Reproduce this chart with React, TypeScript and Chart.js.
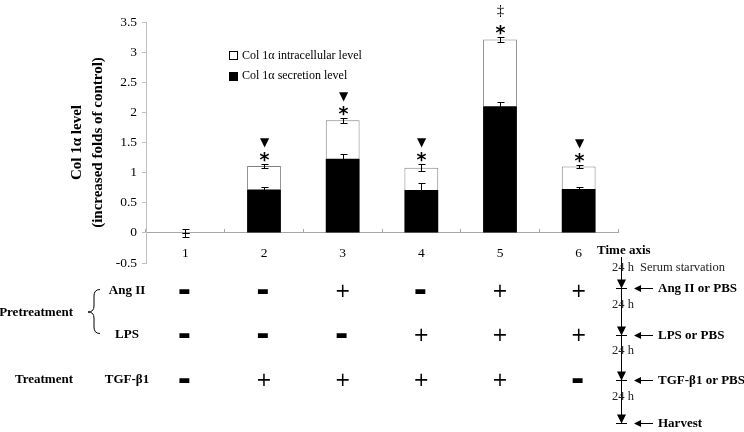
import React, { useEffect, useRef } from 'react';
import { Chart, registerables } from 'chart.js';

Chart.register(...registerables);

// ---- data ----
const categories = ['1', '2', '3', '4', '5', '6'];
const secretionLevel = [0, 0.72, 1.23, 0.71, 2.1, 0.73];
const intracellularLevel = [0, 0.39, 0.64, 0.37, 1.11, 0.37];
const secretionError = [0, 0.04, 0.08, 0.12, 0.08, 0.03];
const totalError = [0.07, 0.03, 0.04, 0.06, 0.035, 0.03];
const triangleMark = [false, true, true, true, false, true];
const starMark = [false, true, true, true, true, true];
const daggerMark = [false, false, false, false, true, false];
const angII = ['-', '-', '+', '-', '+', '+'];
const lps = ['-', '-', '-', '+', '+', '+'];
const tgf = ['-', '+', '+', '+', '+', '-'];
const seriesNames = ['Col 1α intracellular level', 'Col 1α secretion level'];
const yTitle = ['Col 1α level', '(increased folds of control)'];
const rowNames = ['Ang II', 'LPS', 'TGF-β1'];
const groupNames = ['Pretreatment', 'Treatment'];
const timeSteps = ['Ang II or PBS', 'LPS or PBS', 'TGF-β1 or PBS', 'Harvest'];
const timeIntervals = ['24 h', '24 h', '24 h', '24 h'];

const SERIF = '"Liberation Serif", "Times New Roman", serif';
const SANS = '"DejaVu Sans", sans-serif';

function glyph(ctx: CanvasRenderingContext2D, text: string, x: number, cy: number, font: string, color = '#000') {
  ctx.font = font;
  ctx.fillStyle = color;
  ctx.textAlign = 'center';
  ctx.textBaseline = 'alphabetic';
  const m = ctx.measureText(text);
  const y = cy + (m.actualBoundingBoxAscent - m.actualBoundingBoxDescent) / 2;
  ctx.fillText(text, x, y);
}

function label(ctx: CanvasRenderingContext2D, text: string, x: number, y: number, font: string, align: CanvasTextAlign = 'left', color = '#000') {
  ctx.font = font;
  ctx.fillStyle = color;
  ctx.textAlign = align;
  ctx.textBaseline = 'middle';
  ctx.fillText(text, x, y);
}

const annotationPlugin = {
  id: 'annotations',
  afterDatasetsDraw(chart: any) {
    const ctx: CanvasRenderingContext2D = chart.ctx;
    const xs = chart.scales.x;
    const ys = chart.scales.y;
    ctx.save();
    ctx.strokeStyle = '#000';
    ctx.lineWidth = 1;

    // error bars
    const errBar = (x: number, v: number, e: number) => {
      const y1 = Math.round(ys.getPixelForValue(v + e)) + 0.5;
      const y2 = Math.round(ys.getPixelForValue(v - e)) + 0.5;
      ctx.beginPath();
      ctx.moveTo(x, y1); ctx.lineTo(x, y2);
      ctx.moveTo(x - 3, y1); ctx.lineTo(x + 4, y1);
      ctx.moveTo(x - 3, y2); ctx.lineTo(x + 4, y2);
      ctx.stroke();
    };
    categories.forEach((_, i) => {
      const x = Math.round(xs.getPixelForValue(i)) + 0.5;
      errBar(x, secretionLevel[i], secretionError[i]);
      errBar(x, secretionLevel[i] + intracellularLevel[i], totalError[i]);
      const topPx = ys.getPixelForValue(secretionLevel[i] + intracellularLevel[i] + totalError[i]);
      if (starMark[i]) glyph(ctx, '*', x, topPx - 7, `bold 19px ${SANS}`);
      if (triangleMark[i]) glyph(ctx, '▼', x, topPx - 21, `12px ${SANS}`);
      if (daggerMark[i]) glyph(ctx, '‡', x, topPx - 26, `15px ${SERIF}`);
    });

    // legend
    ctx.lineWidth = 1;
    ctx.strokeStyle = '#000';
    ctx.fillStyle = '#fff';
    ctx.fillRect(229.5, 51.5, 8, 8);
    ctx.strokeRect(229.5, 51.5, 8, 8);
    ctx.fillStyle = '#000';
    ctx.fillRect(229, 72, 9, 9);
    label(ctx, seriesNames[0], 242, 56, `12px ${SERIF}`);
    label(ctx, seriesNames[1], 242, 76, `12px ${SERIF}`);

    // treatment table
    const rows = [angII, lps, tgf];
    const rowY = [291, 335, 380];
    rows.forEach((row, r) => {
      label(ctx, rowNames[r], 127, rowY[r], `bold 13px ${SERIF}`, 'center');
      row.forEach((s, i) => {
        const x = xs.getPixelForValue(i);
        if (s === '+') glyph(ctx, '+', x, rowY[r] - 1, `19px ${SANS}`);
        else glyph(ctx, '▬', x - 1, rowY[r] + 1, `13px ${SANS}`);
      });
    });
    label(ctx, groupNames[0], 73, 313, `bold 13px ${SERIF}`, 'right');
    label(ctx, groupNames[1], 73, 380, `bold 13px ${SERIF}`, 'right');
    // brace
    ctx.beginPath();
    ctx.moveTo(100, 289.5);
    ctx.quadraticCurveTo(94, 289.5, 94, 296);
    ctx.lineTo(94, 306);
    ctx.quadraticCurveTo(94, 312, 88, 312);
    ctx.quadraticCurveTo(94, 312, 94, 318);
    ctx.lineTo(94, 327);
    ctx.quadraticCurveTo(94, 333.5, 100, 333.5);
    ctx.stroke();

    // time axis
    label(ctx, 'Time axis', 597, 251, `bold 13px ${SERIF}`);
    const lx = 621.5;
    ctx.beginPath();
    ctx.moveTo(lx, 257); ctx.lineTo(lx, 423);
    ctx.stroke();
    const stepY = [288, 335, 380, 423];
    const intervalY = [268, 305, 351, 397];
    intervalY.forEach((y, k) => {
      label(ctx, timeIntervals[k], 612, y, `12.5px ${SERIF}`, 'left', '#222');
    });
    label(ctx, 'Serum starvation', 640, 268, `12.5px ${SERIF}`, 'left', '#222');
    stepY.forEach((y, k) => {
      const yy = y + 0.5;
      ctx.fillStyle = '#000';
      ctx.beginPath();
      ctx.moveTo(lx - 4.5, yy - 9); ctx.lineTo(lx + 4.5, yy - 9); ctx.lineTo(lx, yy);
      ctx.closePath(); ctx.fill();
      ctx.beginPath();
      ctx.moveTo(616, yy); ctx.lineTo(627, yy);
      ctx.moveTo(638, yy); ctx.lineTo(653, yy);
      ctx.stroke();
      ctx.beginPath();
      ctx.moveTo(634, yy); ctx.lineTo(641, yy - 3.5); ctx.lineTo(641, yy + 3.5);
      ctx.closePath(); ctx.fill();
      label(ctx, timeSteps[k], 658, yy, `bold 13px ${SERIF}`);
    });
    ctx.restore();
  },
};

export default function App() {
  const ref = useRef<HTMLCanvasElement | null>(null);
  useEffect(() => {
    if (!ref.current) return;
    const chart = new Chart(ref.current, {
      type: 'bar',
      data: {
        labels: categories,
        datasets: [
          {
            label: seriesNames[1],
            data: secretionLevel,
            backgroundColor: '#000',
            borderWidth: 0,
            stack: 's',
          },
          {
            label: seriesNames[0],
            data: intracellularLevel,
            backgroundColor: '#fff',
            borderColor: '#808080',
            borderWidth: 1,
            stack: 's',
          },
        ],
      },
      options: {
        responsive: false,
        animation: false,
        devicePixelRatio: 1,
        layout: { padding: { left: 0, top: 22, right: 126, bottom: 169 } },
        plugins: { legend: { display: false }, tooltip: { enabled: false } },
        datasets: { bar: { barPercentage: 0.43, categoryPercentage: 1 } },
        scales: {
          x: {
            type: 'category',
            stacked: true,
            position: { y: 0 } as any,
            afterFit: (s: any) => { s.height = 0; },
            grid: { display: true, drawOnChartArea: false, offset: true, tickLength: -4, color: '#a6a6a6' },
            border: { color: '#a6a6a6' },
            ticks: { color: '#000', font: { family: SERIF, size: 13.5 }, padding: 16, maxRotation: 0, autoSkip: false },
          },
          y: {
            type: 'linear',
            stacked: true,
            min: -0.5,
            max: 3.5,
            afterFit: (s: any) => { s.width = 146; },
            grid: { display: true, drawOnChartArea: false, tickLength: 4, color: '#bfbfbf' },
            border: { color: '#bfbfbf' },
            ticks: {
              stepSize: 0.5,
              color: '#000',
              padding: 5,
              font: { family: SERIF, size: 13.5 },
              callback: (v: any) => String(v),
            },
            title: {
              display: true,
              text: yTitle,
              color: '#000',
              font: { family: SERIF, size: 15, weight: 'bold', lineHeight: 1.4 },
              padding: { top: 67, bottom: 0 },
            },
          },
        },
      },
      plugins: [annotationPlugin],
    } as any);
    return () => chart.destroy();
  }, []);
  return (
    <div style={{ position: 'absolute', left: 0, top: 0, width: 744, height: 432, background: '#fff' }}>
      <canvas ref={ref} width={744} height={432} style={{ display: 'block' }} />
    </div>
  );
}
